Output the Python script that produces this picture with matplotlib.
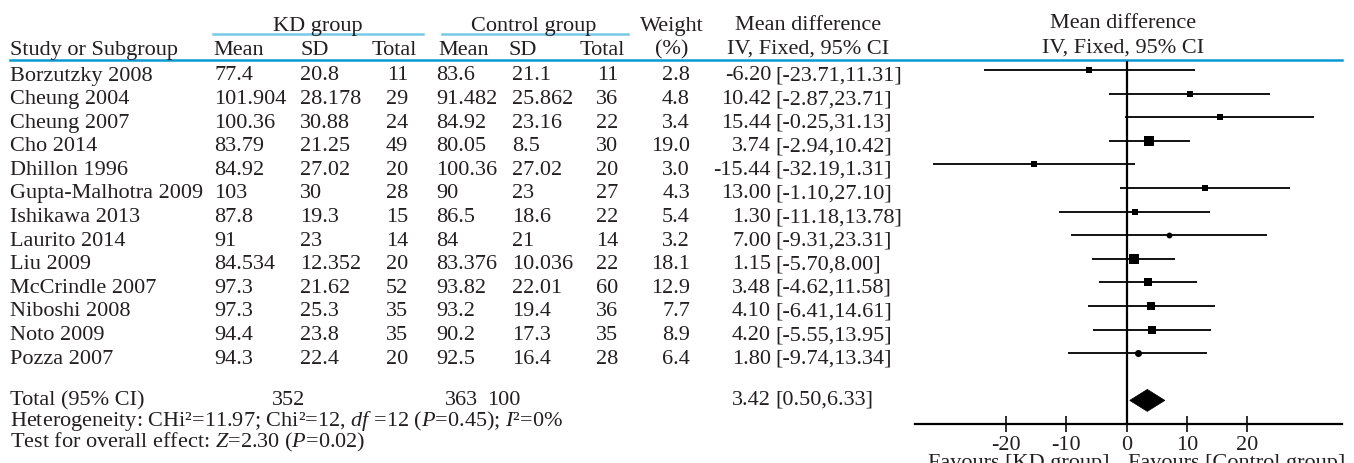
# -*- coding: utf-8 -*-
"""
    Forest plot: KD group vs control group, mean difference (IV, fixed, 95% CI).
"""

import numpy as np
import matplotlib
matplotlib.use("Agg")
import matplotlib.pyplot as plt
from matplotlib.patches import Polygon

# ---- data ----
studies = ["Borzutzky 2008", "Cheung 2004", "Cheung 2007", "Cho 2014",
           "Dhillon 1996", "Gupta-Malhotra 2009", "Ishikawa 2013",
           "Laurito 2014", "Liu 2009", "McCrindle 2007", "Niboshi 2008",
           "Noto 2009", "Pozza 2007"]
kd_mean = ["77.4", "101.904", "100.36", "83.79", "84.92", "103", "87.8",
           "91", "84.534", "97.3", "97.3", "94.4", "94.3"]
kd_sd = ["20.8", "28.178", "30.88", "21.25", "27.02", "30", "19.3",
         "23", "12.352", "21.62", "25.3", "23.8", "22.4"]
kd_total = [11, 29, 24, 49, 20, 28, 15, 14, 20, 52, 35, 35, 20]
ctl_mean = ["83.6", "91.482", "84.92", "80.05", "100.36", "90", "86.5",
            "84", "83.376", "93.82", "93.2", "90.2", "92.5"]
ctl_sd = ["21.1", "25.862", "23.16", "8.5", "27.02", "23", "18.6",
          "21", "10.036", "22.01", "19.4", "17.3", "16.4"]
ctl_total = [11, 36, 22, 30, 20, 27, 22, 14, 22, 60, 36, 35, 28]
weight = [2.8, 4.8, 3.4, 19.0, 3.0, 4.3, 5.4, 3.2, 18.1, 12.9, 7.7, 8.9, 6.4]
md = [-6.20, 10.42, 15.44, 3.74, -15.44, 13.00, 1.30, 7.00, 1.15, 3.48,
      4.10, 4.20, 1.80]
ci_lo = [-23.71, -2.87, -0.25, -2.94, -32.19, -1.10, -11.18, -9.31, -5.70,
         -4.62, -6.41, -5.55, -9.74]
ci_hi = [11.31, 23.71, 31.13, 10.42, 1.31, 27.10, 13.78, 23.31, 8.00,
         11.58, 14.61, 13.95, 13.34]

total_kd = 352
total_ctl = 363
total_weight = 100
total_md = 3.42
total_lo = 0.50
total_hi = 6.33
heterogeneity = "Heterogeneity: CHi²=11.97; Chi²=12, $\\it{df}$ =12 ($\\it{P}$=0.45); $\\it{I}$²=0%"
overall = "Test for overall effect: $\\it{Z}$=2.30 ($\\it{P}$=0.02)"
xticks = [-20, -10, 0, 10, 20]

# ---- style ----
plt.rcParams["font.family"] = ["Liberation Serif", "DejaVu Serif"]
plt.rcParams["mathtext.fontset"] = "custom"
plt.rcParams["mathtext.rm"] = "Liberation Serif"
plt.rcParams["mathtext.it"] = "Liberation Serif:italic"
plt.rcParams["axes.unicode_minus"] = False

W, H = 1354, 464
FS = 16
TXT = "#231f20"
BLUE = "#0a9ad1"
LIGHT_BLUE = "#78c8e6"
ROW0, ROW_STEP = 71, 23.6      # pixel centre of first study row, row spacing
TOTAL_ROW = 14
circle_rows = {"Laurito 2014", "Pozza 2007"}

fig = plt.figure(figsize=(W / 100.0, H / 100.0), dpi=100)

# table part, in pixel coordinates
tab = fig.add_axes([0, 0, 1, 1])
tab.set_xlim(0, W)
tab.set_ylim(H, 0)
tab.axis("off")


def put(x, y, s, ha="left"):
    tab.text(x, y, s, ha=ha, va="baseline", fontsize=FS, color=TXT)


# headers
put(318, 31, "KD group", "center")
put(534, 31, "Control group", "center")
put(672, 31, "Weight", "center")
put(672, 54, "(%)", "center")
put(808, 30, "Mean difference", "center")
put(808, 54, "IV, Fixed, 95% CI", "center")
put(1123, 28, "Mean difference", "center")
put(1123, 53, "IV, Fixed, 95% CI", "center")
put(10, 55, "Study or Subgroup")
put(213, 55, "Mean")
put(300, 55, "SD")
put(417, 55, "Total", "right")
put(438, 55, "Mean")
put(508, 55, "SD")
put(625, 55, "Total", "right")

tab.plot([213, 423], [35, 35], color=LIGHT_BLUE, lw=1.8)
tab.plot([442, 628], [35, 35], color=LIGHT_BLUE, lw=1.8)
tab.plot([10, 1342], [61, 61], color=BLUE, lw=1.8)

# study rows
for i, name in enumerate(studies):
    yb = ROW0 + ROW_STEP * i + 9.5
    put(10, yb, name)
    put(214, yb, kd_mean[i])
    put(300, yb, kd_sd[i])
    put(408, yb, str(kd_total[i]), "right")
    put(436, yb, ctl_mean[i])
    put(512, yb, ctl_sd[i])
    put(618, yb, str(ctl_total[i]), "right")
    put(690, yb, "%.1f" % weight[i], "right")
    put(771, yb, "%.2f" % md[i], "right")
    put(775, yb, "[%.2f,%.2f]" % (ci_lo[i], ci_hi[i]))

# total + footer rows
put(10, 405, "Total (95% CI)")
put(305, 405, str(total_kd), "right")
put(478, 405, str(total_ctl), "right")
put(487, 405, str(total_weight))
put(771, 405, "%.2f" % total_md, "right")
put(775, 405, "[%.2f,%.2f]" % (total_lo, total_hi))
put(10, 426, heterogeneity)
put(10, 447, overall)

# axis captions sit partly below the bottom edge, as in the reference
put(1110, 468, "Favours [KD group]", "right")
put(1128, 468, "Favours [Control group]")

# forest part
px_left, px_right, px_top, px_bot = 915, 1342, 62, 425
ax = fig.add_axes([px_left / W, 1 - px_bot / H,
                   (px_right - px_left) / W, (px_bot - px_top) / H])
ax.patch.set_alpha(0)
zero_px, unit_px = 1126.7, 6.03
ax.set_xlim((px_left - zero_px) / unit_px, (px_right - zero_px) / unit_px)
ax.set_ylim((px_bot - ROW0) / ROW_STEP, (px_top - ROW0) / ROW_STEP)

rows = np.arange(len(studies))
ax.hlines(rows, ci_lo, ci_hi, color="black", lw=1.3)
for i, name in enumerate(studies):
    side = (3.0 + 1.6 * np.sqrt(weight[i])) * 0.72
    ax.plot(md[i], rows[i], marker="o" if name in circle_rows else "s",
            ms=side, color="black", mec="black", mew=0, ls="none")

half_h = 11.0 / ROW_STEP
diamond = Polygon([(total_lo, TOTAL_ROW), (total_md, TOTAL_ROW - half_h),
                   (total_hi, TOTAL_ROW), (total_md, TOTAL_ROW + half_h)],
                  closed=True, facecolor="black", edgecolor="black", lw=0.5)
ax.add_patch(diamond)
ax.axvline(0, color="black", lw=1.6)

for side_name in ["top", "left", "right"]:
    ax.spines[side_name].set_visible(False)
ax.spines["bottom"].set_linewidth(1.6)
ax.set_yticks([])
ax.set_xticks(xticks)
ax.set_xticklabels([str(t) for t in xticks])
ax.tick_params(axis="x", direction="inout", length=11, width=1.3, pad=2.5,
               labelsize=FS, colors=TXT)

fig.savefig("out.png", dpi=100)
